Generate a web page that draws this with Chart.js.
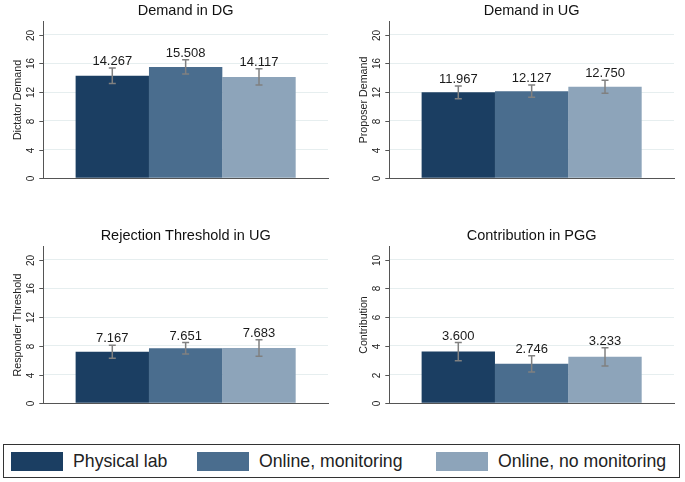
<!DOCTYPE html>
<html>
<head>
<meta charset="utf-8">
<script src="https://cdn.jsdelivr.net/npm/chart.js@4.4.0/dist/chart.umd.min.js"></script>
<style>
  body { margin: 0; background: #fff; width: 685px; height: 482px; position: relative; overflow: hidden; font-family: "Liberation Sans", Arial, sans-serif; }
  canvas { position: absolute; }
  #legend { position: absolute; left: 3px; top: 444px; width: 677px; height: 34px; border: 1px solid #333; box-sizing: border-box; }
  .sw { position: absolute; top: 7px; width: 52px; height: 19px; }
  .lt { position: absolute; top: 6px; font-size: 17.7px; line-height: 20px; color: #222; white-space: nowrap; }
</style>
</head>
<body>
<canvas id="p0" width="339" height="200" style="left:0;top:0"></canvas>
<canvas id="p1" width="339" height="200" style="left:346px;top:0"></canvas>
<canvas id="p2" width="339" height="200" style="left:0;top:225px"></canvas>
<canvas id="p3" width="339" height="200" style="left:346px;top:225px"></canvas>
<div id="legend"></div>
<script>
// panels (categories)
const panelTitles = ["Demand in DG", "Demand in UG", "Rejection Threshold in UG", "Contribution in PGG"];
const axisTitles = ["Dictator Demand", "Proposer Demand", "Responder Threshold", "Contribution"];
// series
const seriesNames = ["Physical lab", "Online, monitoring", "Online, no monitoring"];
const seriesColors = ["#1b3e62", "#4a6d8e", "#8da4ba"];
const physicalLab = [14.267, 11.967, 7.167, 3.600];
const onlineMonitoring = [15.508, 12.127, 7.651, 2.746];
const onlineNoMonitoring = [14.117, 12.750, 7.683, 3.233];
// half-widths of the error bars
const physicalLabErr = [1.08, 0.88, 0.90, 0.63];
const onlineMonitoringErr = [1.00, 0.86, 0.80, 0.56];
const onlineNoMonitoringErr = [1.14, 0.90, 1.15, 0.64];
// y axes
const tickSets = [[0, 4, 8, 12, 16, 20], [0, 4, 8, 12, 16, 20], [0, 4, 8, 12, 16, 20], [0, 2, 4, 6, 8, 10]];
const axisMax = [21.8, 21.8, 21.8, 10.9];

const allValues = [physicalLab, onlineMonitoring, onlineNoMonitoring];
const allErrors = [physicalLabErr, onlineMonitoringErr, onlineNoMonitoringErr];
const FONT = "'Liberation Sans', Arial, sans-serif";

const panelDecor = {
  id: "panelDecor",
  afterDatasetsDraw(chart, args, opts) {
    const ctx = chart.ctx;
    const y = chart.scales.y;
    chart.data.datasets.forEach((ds, i) => {
      const bar = chart.getDatasetMeta(i).data[0];
      const v = ds.data[0];
      const hi = y.getPixelForValue(v + opts.errors[i]);
      const lo = y.getPixelForValue(v - opts.errors[i]);
      ctx.save();
      ctx.strokeStyle = "#808080";
      ctx.lineWidth = 1.5;
      ctx.beginPath();
      ctx.moveTo(bar.x, hi); ctx.lineTo(bar.x, lo);
      ctx.moveTo(bar.x - 3.5, hi); ctx.lineTo(bar.x + 3.5, hi);
      ctx.moveTo(bar.x - 3.5, lo); ctx.lineTo(bar.x + 3.5, lo);
      ctx.stroke();
      ctx.fillStyle = "#1a1a1a";
      ctx.font = "13px " + FONT;
      ctx.textAlign = "center";
      ctx.textBaseline = "alphabetic";
      ctx.fillText(v.toFixed(3), bar.x, hi - 3);
      ctx.restore();
    });
  },
  afterDraw(chart, args, opts) {
    const ctx = chart.ctx;
    const y = chart.scales.y;
    const area = chart.chartArea;
    ctx.save();
    // tick marks and rotated tick labels
    ctx.strokeStyle = "#555";
    ctx.lineWidth = 1;
    ctx.fillStyle = "#222";
    ctx.font = "10px " + FONT;
    ctx.textAlign = "center";
    ctx.textBaseline = "middle";
    y.ticks.forEach((t) => {
      const py = Math.round(y.getPixelForValue(t.value)) + 0.5;
      ctx.beginPath();
      ctx.moveTo(area.left - 4, py);
      ctx.lineTo(area.left, py);
      ctx.stroke();
      ctx.save();
      ctx.translate(area.left - 12.3, py);
      ctx.rotate(-Math.PI / 2);
      ctx.fillText(String(t.value), 0, 0);
      ctx.restore();
    });
    // y axis title
    ctx.save();
    ctx.font = "10.7px " + FONT;
    ctx.translate(area.left - 25, (area.top + area.bottom) / 2);
    ctx.rotate(-Math.PI / 2);
    ctx.fillText(opts.axisTitle, 0, 0);
    ctx.restore();
    // panel title
    ctx.font = "14.5px " + FONT;
    ctx.textBaseline = "alphabetic";
    ctx.fillStyle = "#111";
    ctx.fillText(opts.title, (area.left + area.right) / 2, area.top - 6.7);
    ctx.restore();
  }
};

panelTitles.forEach((title, p) => {
  new Chart(document.getElementById("p" + p), {
    type: "bar",
    data: {
      labels: [title],
      datasets: seriesNames.map((name, s) => ({
        label: name,
        data: [allValues[s][p]],
        backgroundColor: seriesColors[s],
        borderWidth: 0,
        categoryPercentage: 0.773,
        barPercentage: 1.0,
      })),
    },
    options: {
      responsive: false,
      animation: false,
      events: [],
      layout: { padding: { left: 43.3, top: 21.7, right: 11, bottom: 21.7 } },
      scales: {
        x: {
          ticks: { display: false },
          grid: { display: false, drawTicks: false },
          border: { display: true, color: "#555", width: 1 },
        },
        y: {
          min: 0,
          max: axisMax[p],
          afterBuildTicks: (scale) => {
            scale.ticks = tickSets[p].map((v) => ({ value: v }));
          },
          ticks: { display: false },
          grid: { color: "#e6eeef", lineWidth: 1, drawTicks: false },
          border: { display: true, color: "#555", width: 1 },
        },
      },
      plugins: {
        legend: { display: false },
        tooltip: { enabled: false },
        panelDecor: {
          title: title,
          axisTitle: axisTitles[p],
          errors: allErrors.map((e) => e[p]),
        },
      },
    },
    plugins: [panelDecor],
  });
});

// legend
const legend = document.getElementById("legend");
const swatchLeft = [7, 193, 432];
const textLeft = [69, 255, 494];
seriesNames.forEach((name, s) => {
  legend.innerHTML += `<div class="sw" style="left:${swatchLeft[s]}px;background:${seriesColors[s]}"></div>` +
    `<div class="lt" style="left:${textLeft[s]}px">${name}</div>`;
});
</script>
</body>
</html>
